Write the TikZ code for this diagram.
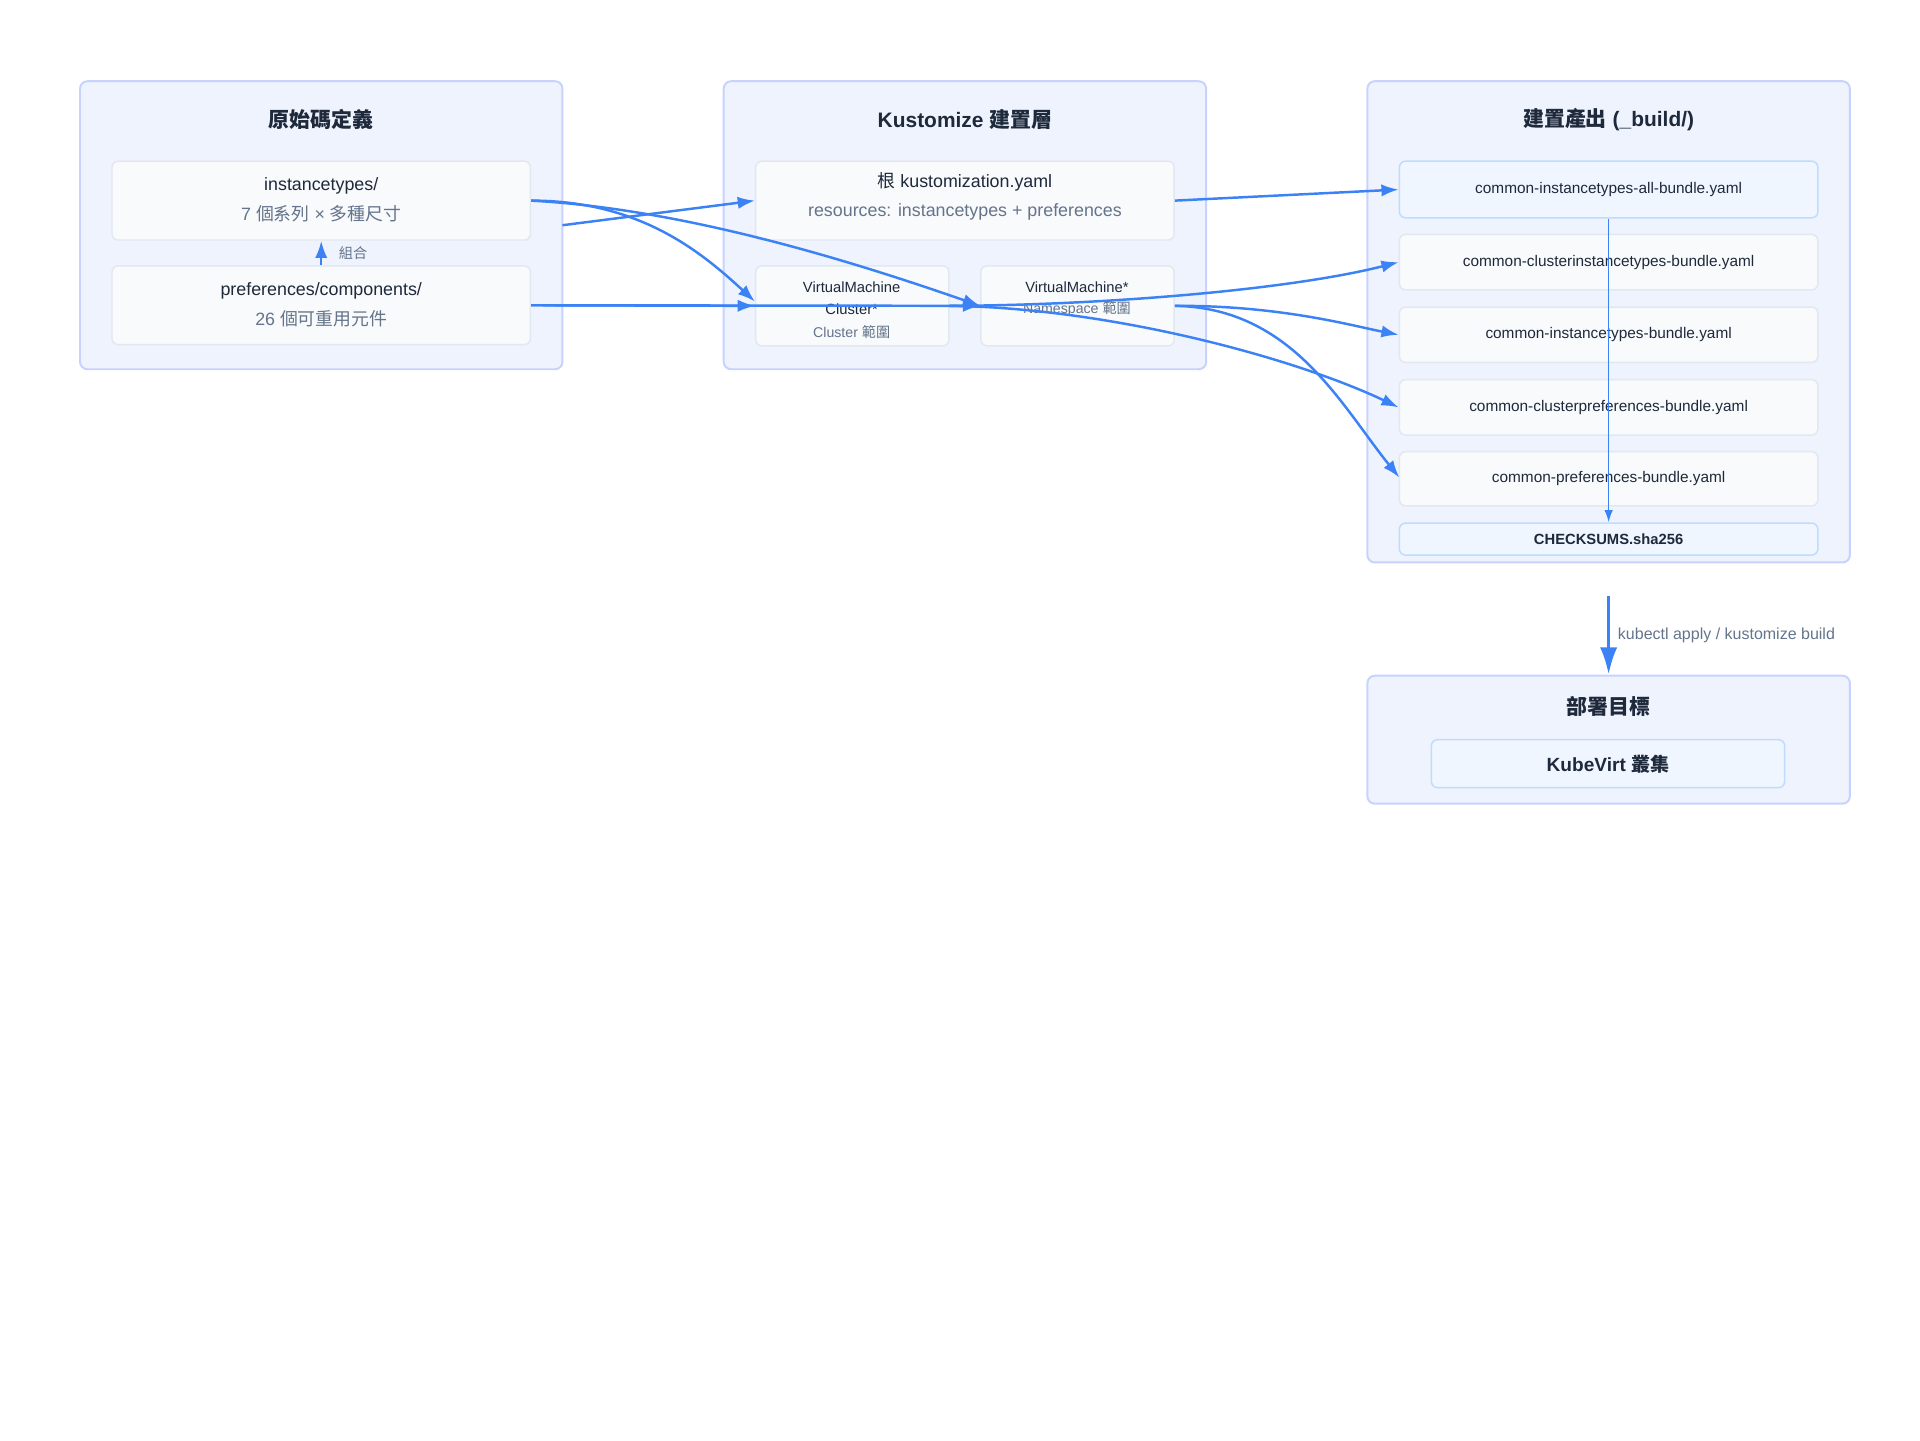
\documentclass[tikz,border=0pt]{standalone}
\usepackage{fontspec}
\setmainfont{Liberation Sans}
\newfontfamily\cjk{Noto Sans CJK TC}
\newcommand{\zh}[1]{{\cjk #1}}
\usetikzlibrary{arrows.meta}
\definecolor{gfill}{HTML}{EEF3FD}
\definecolor{gline}{HTML}{C7D2FE}
\definecolor{nfill}{HTML}{F8FAFC}
\definecolor{nline}{HTML}{E2E8F0}
\definecolor{bfill}{HTML}{EFF6FF}
\definecolor{bline}{HTML}{BFDBFE}
\definecolor{txt}{HTML}{1E293B}
\definecolor{sub}{HTML}{64748B}
\definecolor{arr}{HTML}{3B82F6}
\tikzset{
  grp/.style={draw=gline,fill=gfill,line width=1.6pt,rounded corners=6pt},
  nd/.style={draw=nline,fill=nfill,line width=1.2pt,rounded corners=5pt},
  hb/.style={draw=bline,fill=bfill,line width=1.2pt,rounded corners=5pt},
  ttl/.style={text=txt,font=\fontsize{17}{20}\selectfont\bfseries},
  mt/.style={text=txt,font=\fontsize{14.5}{17}\selectfont},
  st/.style={text=sub,font=\fontsize{14.5}{17}\selectfont},
  bt/.style={text=txt,font=\fontsize{12.5}{15}\selectfont},
  vt/.style={text=txt,font=\fontsize{12}{14}\selectfont},
  vs/.style={text=sub,font=\fontsize{11.5}{14}\selectfont},
  ar/.style={draw=arr,line width=2pt,-{Latex[length=14pt,width=10pt]}},
}
\begin{document}
\begin{tikzpicture}[x=1pt,y=-1pt]
\useasboundingbox (0,0) rectangle (1560,1170);
% groups
\draw[grp] (65,66) rectangle (457,300);
\node[ttl] (t1) at (261,97) {\zh{原始碼定義}};
\draw[grp] (588,66) rectangle (980,300);
\node[ttl] (t2) at (784,97) {Kustomize \zh{建置層}};
\draw[grp] (1111,66) rectangle (1503,457);
\node[ttl] (t3) at (1307,97) {\zh{建置產出} (\_build/)};
\draw[grp] (1111,549) rectangle (1503,653);
\node[ttl] (t4) at (1307,574) {\zh{部署目標}};
% group1 nodes
\node[nd,minimum width=340,minimum height=64] (it) at (261,163) {};
\node[mt] at (261,151) {instancetypes/};
\node[st] at (261,174) {7 \zh{個系列} × \zh{多種尺寸}};
\node[nd,minimum width=340,minimum height=64] (pc) at (261,248) {};
\node[mt] at (261,236) {preferences/components/};
\node[st] at (261,259) {26 \zh{個可重用元件}};
% group2 nodes
\node[nd,minimum width=340,minimum height=64] (ku) at (784,163) {};
\node[mt] at (784,148) {\zh{根} kustomization.yaml};
\node[st] at (784,172) {resources: instancetypes + preferences};
\node[nd,minimum width=157,minimum height=65] (vc) at (692.5,248.5) {};
\node[vt] at (692,233) {VirtualMachine};
\node[vt] at (692,251) {Cluster*};
\node[vs] at (692,270) {Cluster \zh{範圍}};
\node[nd,minimum width=157,minimum height=65] (vn) at (875.5,248.5) {};
\node[vt] at (875,233) {VirtualMachine*};
\node[vs] at (875,251) {Namespace \zh{範圍}};
% group3 nodes
\node[hb,minimum width=340,minimum height=46,bt] (b1) at (1307,154) {common-instancetypes-all-bundle.yaml};
\node[nd,minimum width=340,minimum height=45,bt] (b2) at (1307,213) {common-clusterinstancetypes-bundle.yaml};
\node[nd,minimum width=340,minimum height=45,bt] (b3) at (1307,272) {common-instancetypes-bundle.yaml};
\node[nd,minimum width=340,minimum height=45,bt] (b4) at (1307,331) {common-clusterpreferences-bundle.yaml};
\node[nd,minimum width=340,minimum height=44,bt] (b5) at (1307,389) {common-preferences-bundle.yaml};
\node[hb,minimum width=340,minimum height=26,text=txt,font=\fontsize{12}{14}\selectfont\bfseries] (cs) at (1307,438) {CHECKSUMS.sha256};
% group4
\node[hb,minimum width=287,minimum height=39,text=txt,font=\fontsize{15.5}{18}\selectfont\bfseries] (kv) at (1306.5,620.5) {KubeVirt \zh{叢集}};
% edges
\draw[ar] (pc.north) -- (it.south) node[midway,right=10pt,vs] {\zh{組合}};
\draw[ar] (457,183) -- (ku.west);
\draw[ar] (it.east) .. controls (520,163) and (570,205) .. (vc.west|-0,245);
\draw[ar] (it.east) .. controls (560,170) and (700,215) .. (vn.west);
\draw[ar] (pc.east) -- (vc.west);
\draw[ar] (pc.east) -- (vn.west);
\draw[ar] (ku.east) -- (b1.west);
\draw[ar] (vc.east) .. controls (900,248) and (1050,235) .. (b2.west);
\draw[ar] (vc.east) .. controls (900,250) and (1050,290) .. (b4.west);
\draw[ar] (vn.east) .. controls (1040,248) and (1100,265) .. (b3.west);
\draw[ar] (vn.east) .. controls (1050,250) and (1090,330) .. (1137,388);
\draw[draw=arr,line width=1.3pt,-{Latex[length=10pt,width=7pt]}] (b1.south) -- (cs.north);
\coordinate (ks) at (1307,484);
\draw[ar,line width=2.5pt,-{Latex[length=22pt,width=14pt]}] (ks) -- (1307,548) node[midway,right=3pt,vs,font=\fontsize{13}{15}\selectfont] {kubectl apply / kustomize build};
\end{tikzpicture}
\end{document}
